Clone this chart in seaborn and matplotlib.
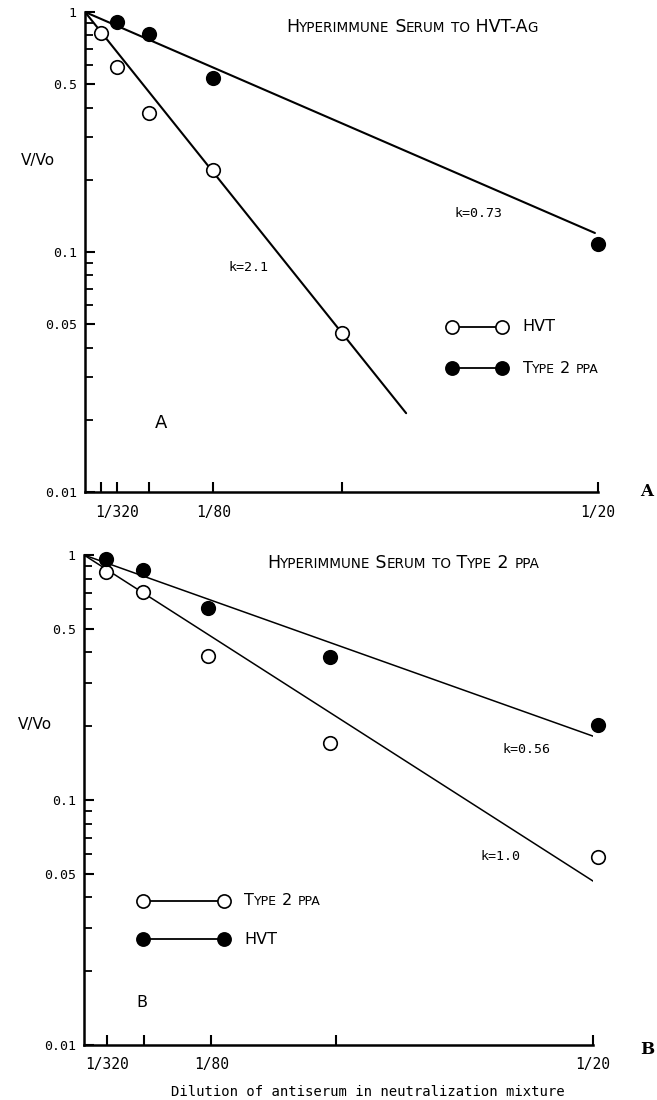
import numpy as np
import pandas as pd
import seaborn as sns
import matplotlib.pyplot as plt
from matplotlib.offsetbox import TextArea, HPacker, AnnotationBbox

# ---- panel A: hyperimmune serum to HVT-Ag ----
a_hvt_x = [1/640, 1/320, 1/160, 1/80, 1/40]
a_hvt_y = [0.82, 0.59, 0.38, 0.22, 0.046]
a_ppa_x = [1/320, 1/160, 1/80, 1/20]
a_ppa_y = [0.91, 0.81, 0.53, 0.108]
a_hvt_fit_x = [0, 0.0313]
a_hvt_fit_y = [1, 0.0213]
a_ppa_fit_x = [0, 0.0497]
a_ppa_fit_y = [1, 0.12]
a_ticks = [1/640, 1/320, 1/160, 1/80, 1/40, 1/20]
a_ticklabels = ['', '1/320', '', '1/80', '', '1/20']

# ---- panel B: hyperimmune serum to type 2 ppa ----
b_x = [0.00216, 0.0058, 0.0122, 0.0242, 0.0505]
b_ppa_y = [0.852, 0.706, 0.387, 0.171, 0.0585]
b_hvt_y = [0.963, 0.869, 0.608, 0.383, 0.202]
b_ppa_fit_x = [0, 0.0506]
b_ppa_fit_y = [1, 0.045]
b_hvt_fit_x = [0, 0.0502]
b_hvt_fit_y = [1, 0.181]
b_ticks = [0.00226, 0.0059, 0.0125, 0.0248, 0.05]
b_ticklabels = ['1/320', '', '1/80', '', '1/20']

y_major = [0.01, 0.05, 0.1, 0.5, 1]
y_major_labels = ['0.01', '0.05', '0.1', '0.5', '1']
y_minor = [0.02, 0.03, 0.04, 0.06, 0.07, 0.08, 0.09,
           0.2, 0.3, 0.4, 0.6, 0.7, 0.8, 0.9]

sns.set_style('white')
plt.rcParams['font.family'] = ['DejaVu Sans']
for key in ['text.color', 'axes.labelcolor', 'xtick.color', 'ytick.color', 'axes.edgecolor']:
    plt.rcParams[key] = 'black'
MONO = 'DejaVu Sans Mono'


def small_caps(ax, x, y, text, size, coords):
    # lower-case letters drawn as smaller capitals
    runs = []
    for ch in text:
        low = ch.islower()
        if runs and runs[-1][0] == low:
            runs[-1][1] += ch
        else:
            runs.append([low, ch])
    boxes = [TextArea(s.upper(), textprops=dict(size=size * 0.78 if low else size,
                                                family='DejaVu Sans', color='black'))
             for low, s in runs]
    box = HPacker(children=boxes, align='baseline', pad=0, sep=0)
    ab = AnnotationBbox(box, (x, y), xycoords=coords, box_alignment=(0, 0.5),
                        frameon=False, pad=0)
    ax.add_artist(ab)


def style_axes(ax, ticks, ticklabels):
    ax.set_yscale('log')
    ax.set_xlim(0, 0.05)
    ax.set_ylim(0.01, 1)
    ax.set_yticks(y_major)
    ax.set_yticklabels(y_major_labels, family=MONO, size=9.5)
    ax.set_yticks(y_minor, minor=True)
    ax.set_yticklabels([], minor=True)
    ax.set_xticks(ticks)
    ax.set_xticklabels(ticklabels, family=MONO, size=10.5)
    ax.tick_params(which='both', left=True, bottom=True, top=False, right=False)
    ax.tick_params(axis='both', which='major', direction='in', length=7, width=1.5,
                   color='black', pad=6)
    ax.tick_params(axis='x', pad=9)
    ax.tick_params(axis='y', which='minor', direction='in', length=6, width=1.3,
                   color='black')
    for side in ['top', 'right']:
        ax.spines[side].set_visible(False)
    for side in ['left', 'bottom']:
        ax.spines[side].set_color('black')
        ax.spines[side].set_linewidth(1.8)
    ax.set_xlabel('')
    ax.set_ylabel('')


def legend_row(ax, x0, x1, y, filled, label):
    ax.plot([x0, x1], [y, y], transform=ax.transAxes, color='black', lw=1.3,
            marker='o', ms=9.5, mec='black', mew=1.2,
            mfc='black' if filled else 'white', clip_on=False)
    small_caps(ax, x1 + 0.04, y, label, 11.5, ax.transAxes)


fig = plt.figure(figsize=(6.57, 11), dpi=100)
ax_a = fig.add_axes([85 / 657, 1 - 492 / 1100, 513 / 657, 480 / 1100])
ax_b = fig.add_axes([84 / 657, 1 - 1045 / 1100, 509 / 657, 490 / 1100])

open_kw = dict(s=95, color='white', edgecolor='black', linewidth=1.2, zorder=3, clip_on=False)
fill_kw = dict(s=95, color='black', edgecolor='black', linewidth=1.2, zorder=3, clip_on=False)

# panel A
sns.lineplot(x=a_hvt_fit_x, y=a_hvt_fit_y, ax=ax_a, color='black', lw=1.5)
sns.lineplot(x=a_ppa_fit_x, y=a_ppa_fit_y, ax=ax_a, color='black', lw=1.5)
sns.scatterplot(x=a_hvt_x, y=a_hvt_y, ax=ax_a, **open_kw)
sns.scatterplot(x=a_ppa_x, y=a_ppa_y, ax=ax_a, **fill_kw)
style_axes(ax_a, a_ticks, a_ticklabels)

ax_a.text(0.279, 0.467, 'k=2.1', transform=ax_a.transAxes, family=MONO, size=9.5, va='center')
ax_a.text(0.721, 0.581, 'k=0.73', transform=ax_a.transAxes, family=MONO, size=9.5, va='center')
ax_a.text(0.148, 0.144, 'A', transform=ax_a.transAxes, size=13, ha='center', va='center')
legend_row(ax_a, 0.715, 0.813, 0.344, False, 'HVT')
legend_row(ax_a, 0.715, 0.813, 0.258, True, 'Type 2 ppa')
small_caps(fig, 286 / 657, 1 - 27 / 1100, 'Hyperimmune Serum to HVT-Ag', 12.5, 'figure fraction')

# panel B
sns.lineplot(x=b_ppa_fit_x, y=b_ppa_fit_y, ax=ax_b, color='black', lw=1.1)
sns.lineplot(x=b_hvt_fit_x, y=b_hvt_fit_y, ax=ax_b, color='black', lw=1.1)
sns.scatterplot(x=b_x, y=b_ppa_y, ax=ax_b, **open_kw)
sns.scatterplot(x=b_x, y=b_hvt_y, ax=ax_b, **fill_kw)
style_axes(ax_b, b_ticks, b_ticklabels)

ax_b.text(0.823, 0.604, 'k=0.56', transform=ax_b.transAxes, family=MONO, size=9.5, va='center')
ax_b.text(0.778, 0.384, 'k=1.0', transform=ax_b.transAxes, family=MONO, size=9.5, va='center')
ax_b.text(0.114, 0.086, 'B', transform=ax_b.transAxes, size=11.5, ha='center', va='center')
legend_row(ax_b, 0.116, 0.275, 0.294, False, 'Type 2 ppa')
legend_row(ax_b, 0.116, 0.275, 0.216, True, 'HVT')
small_caps(fig, 267 / 657, 1 - 563 / 1100, 'Hyperimmune Serum to Type 2 ppa', 12.5, 'figure fraction')

# shared labels
fig.text(38 / 657, 1 - 160 / 1100, 'V/Vo', size=11, ha='center', va='center')
fig.text(35 / 657, 1 - 725 / 1100, 'V/Vo', size=11, ha='center', va='center')
fig.text(647 / 657, 1 - 492 / 1100, 'A', family='DejaVu Serif', weight='bold', size=12,
         ha='center', va='center')
fig.text(647 / 657, 1 - 1050 / 1100, 'B', family='DejaVu Serif', weight='bold', size=12,
         ha='center', va='center')
fig.text(368 / 657, 1 - 1092 / 1100, 'Dilution of antiserum in neutralization mixture',
         family=MONO, size=10, ha='center', va='center')

fig.savefig('out.png', dpi=100, facecolor='white')
